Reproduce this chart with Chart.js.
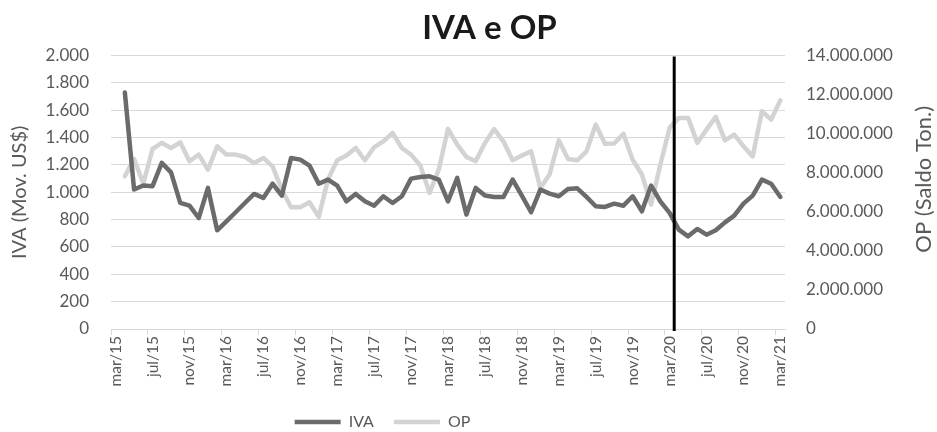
<!DOCTYPE html>
<html><head><meta charset="utf-8">
<script src="https://cdn.jsdelivr.net/npm/chart.js@4"></script>
<style>html,body{margin:0;padding:0;background:#fff;}</style>
</head><body>
<canvas id="c" width="937" height="432"></canvas>
<script>
const categories = [
  'mar/15','abr/15','mai/15','jun/15','jul/15','ago/15','set/15','out/15','nov/15','dez/15',
  'jan/16','fev/16','mar/16','abr/16','mai/16','jun/16','jul/16','ago/16','set/16','out/16','nov/16','dez/16',
  'jan/17','fev/17','mar/17','abr/17','mai/17','jun/17','jul/17','ago/17','set/17','out/17','nov/17','dez/17',
  'jan/18','fev/18','mar/18','abr/18','mai/18','jun/18','jul/18','ago/18','set/18','out/18','nov/18','dez/18',
  'jan/19','fev/19','mar/19','abr/19','mai/19','jun/19','jul/19','ago/19','set/19','out/19','nov/19','dez/19',
  'jan/20','fev/20','mar/20','abr/20','mai/20','jun/20','jul/20','ago/20','set/20','out/20','nov/20','dez/20',
  'jan/21','fev/21','mar/21'
];
const ivaValues = [
  null, 1730, 1020, 1050, 1045, 1215, 1146, 922, 902, 812,
  1032, 722, 788, 854, 922, 988, 959, 1063, 975, 1251, 1239, 1195,
  1063, 1093, 1049, 934, 988, 934, 902, 971, 922, 971, 1100, 1112,
  1117, 1093, 934, 1105, 837, 1032, 976, 966, 966, 1093, 976, 854,
  1020, 990, 971, 1024, 1029, 966, 898, 893, 917, 902, 971, 861,
  1049, 934, 849, 727, 678, 732, 690, 722, 780, 829, 917, 976,
  1093, 1063, 966
];
const opValues = [
  null, 7820000, 8710000, 7440000, 9220000, 9530000, 9270000, 9560000, 8590000, 8930000,
  8160000, 9360000, 8930000, 8930000, 8810000, 8500000, 8760000, 8330000, 7140000, 6230000, 6230000, 6490000,
  5740000, 7650000, 8640000, 8880000, 9270000, 8640000, 9310000, 9610000, 10040000, 9270000, 8930000, 8370000,
  6970000, 8160000, 10250000, 9440000, 8810000, 8590000, 9530000, 10240000, 9610000, 8640000, 8880000, 9100000,
  7220000, 7910000, 9660000, 8710000, 8640000, 9100000, 10470000, 9490000, 9500000, 10000000, 8670000, 7910000,
  6370000, 8420000, 10300000, 10810000, 10810000, 9530000, 10210000, 10860000, 9660000, 9950000, 9360000, 8840000,
  11150000, 10720000, 11710000
];
const ivaAxisMax = 2000, ivaAxisStep = 200;
const opAxisMax = 14000000, opAxisStep = 2000000;
const markerAfterCategory = 'mar/20';
const chartTitle = 'IVA e OP';
const ivaAxisTitle = 'IVA (Mov. US$)';
const opAxisTitle = 'OP (Saldo Ton.)';

const fmt = v => String(Math.round(v)).replace(/\B(?=(\d{3})+(?!\d))/g, '.');
const FONT = 'Lato';
const TXT = '#595959';

const markerLine = {
  id: 'markerLine',
  afterDatasetsDraw(chart) {
    const xs = chart.scales.x;
    const i = categories.indexOf(markerAfterCategory);
    const px = (xs.getPixelForValue(i) + xs.getPixelForValue(i + 1)) / 2;
    const {top, bottom} = chart.chartArea;
    const ctx = chart.ctx;
    ctx.save();
    ctx.strokeStyle = '#000';
    ctx.lineWidth = 3;
    ctx.beginPath();
    ctx.moveTo(px, top + 1);
    ctx.lineTo(px, bottom + 2);
    ctx.stroke();
    ctx.restore();
  }
};
const rightTitle = {
  id: 'rightTitle',
  afterDraw(chart) {
    const s = chart.scales.y1;
    const ctx = chart.ctx;
    ctx.save();
    ctx.translate(s.right - 13, (chart.chartArea.top + chart.chartArea.bottom) / 2 - 13);
    ctx.rotate(-Math.PI / 2);
    ctx.textAlign = 'center';
    ctx.textBaseline = 'middle';
    ctx.font = '22px ' + FONT;
    ctx.fillStyle = TXT;
    ctx.fillText(opAxisTitle, 0, 0);
    ctx.restore();
  }
};
const boxShift = {
  id: 'boxShift',
  afterLayout(chart) {
    const l = chart.legend;
    l.left += -86; l.right += -86;
    const t = chart.titleBlock;
    t.left += 21; t.right += 21;
  }
};

new Chart(document.getElementById('c'), {
  type: 'line',
  data: {
    labels: categories,
    datasets: [
      { label: 'IVA', data: ivaValues, yAxisID: 'y', borderColor: '#6b6b6d', backgroundColor: '#6b6b6d',
        borderWidth: 4.5, pointRadius: 0, tension: 0, borderJoinStyle: 'round', borderCapStyle: 'round' },
      { label: 'OP', data: opValues, yAxisID: 'y1', borderColor: '#d3d3d3', backgroundColor: '#d3d3d3',
        borderWidth: 4.5, pointRadius: 0, tension: 0, borderJoinStyle: 'round', borderCapStyle: 'round' }
    ]
  },
  options: {
    responsive: false,
    devicePixelRatio: 1,
    animation: false,
    layout: { padding: 0 },
    plugins: {
      title: { display: true, text: chartTitle, color: '#1a1a1a',
        font: { family: FONT, size: 33, weight: 'bold' }, padding: { top: 9, bottom: 7 } },
      legend: { display: true, position: 'bottom', maxHeight: 38,
        labels: { usePointStyle: true, pointStyle: 'line', pointStyleWidth: 46, padding: 20,
          color: TXT, font: { family: FONT, size: 16 } } },
      tooltip: { enabled: false }
    },
    scales: {
      x: {
        type: 'category', offset: true,
        grid: { display: true, drawOnChartArea: false, drawTicks: true, tickLength: 6, offset: true,
          color: c => (c.index % 4 === 0 ? '#d9d9d9' : 'rgba(0,0,0,0)') },
        border: { display: true, color: '#d9d9d9', width: 1 },
        ticks: { autoSkip: false, minRotation: 90, maxRotation: 90, padding: 1, color: TXT,
          font: { family: FONT, size: 15.5 },
          callback: function (v, i) { return i % 4 === 0 ? categories[i] : ''; } },
        afterFit(s) { s.height = 65; }
      },
      y: {
        position: 'left', min: 0, max: ivaAxisMax,
        grid: { color: '#d9d9d9', lineWidth: 1, drawTicks: false },
        border: { display: false },
        ticks: { stepSize: ivaAxisStep, padding: 22, color: TXT, font: { family: FONT, size: 17 }, callback: v => fmt(v) },
        title: { display: true, text: ivaAxisTitle, color: TXT, font: { family: FONT, size: 20 }, padding: { top: 8, bottom: 0 } },
        afterFit(s) { s.width = 111; }
      },
      y1: {
        position: 'right', min: 0, max: opAxisMax,
        grid: { drawOnChartArea: false, drawTicks: false },
        border: { display: false },
        ticks: { stepSize: opAxisStep, padding: 21, color: TXT, font: { family: FONT, size: 17 }, callback: v => fmt(v) },
        title: { display: false },
        afterFit(s) { s.width = 152; }
      }
    }
  },
  plugins: [markerLine, rightTitle, boxShift]
});
</script>
</body></html>
